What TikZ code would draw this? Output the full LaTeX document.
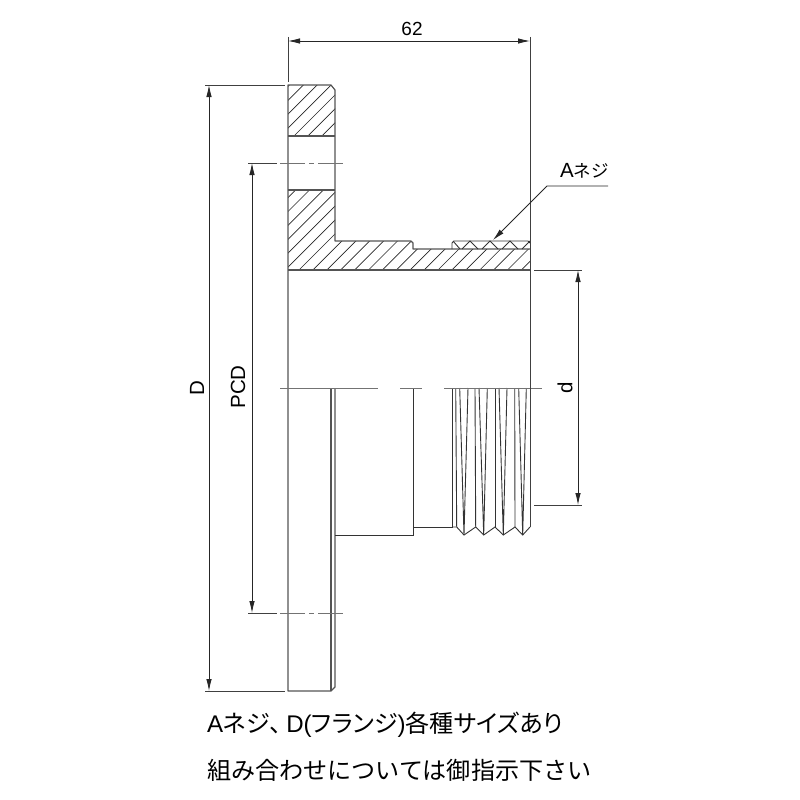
\documentclass[tikz,border=0pt]{standalone}
\usepackage{fontspec}
\setmainfont{Liberation Sans}
\newfontfamily\cjk{Noto Sans CJK JP}
\newfontfamily\cjkp[RawFeature=+palt]{Noto Sans CJK JP}
\usepackage{xcolor}
\usetikzlibrary{calc}
\usetikzlibrary{arrows.meta}
\usetikzlibrary{positioning}

\begin{document}
\begin{tikzpicture}[x=1pt,y=-1pt]
% 1 = 1 pixel of the drawing, y runs downwards
    \def\XLEFT{288}
    \def\XFLANGE{335}
    \def\XCHAMFER{331}
    \def\XSTEP{413}
    \def\XTHREAD{452}
    \def\XRIGHT{530}

    \def\YTOP{85}
    \def\YBOTTOM{691}
    \def\YHOLEA{136} %hole in the flange
    \def\YHOLEB{190}
    \def\YBODY{241}
    \def\YROOT{249}
    \def\YBORE{270}
    \def\YAXIS{388}
    \def\YPCDA{163}
    \def\YPCDB{613}

    \definecolor{outline}{gray}{0.33}
    \definecolor{centre}{gray}{0.45}

    \tikzset{
      part/.style={line width=1.2pt,color=outline,line join=round},
      hatchline/.style={line width=0.65pt,color=black!85},
      thin part/.style={line width=0.9pt,color=black!80},
      dimen/.style={{Latex[length=12pt,width=5.5pt]}-{Latex[length=12pt,width=5.5pt]},
        line width=0.8pt,color=black!85},
      extline/.style={line width=0.9pt,color=black!75},
      centreline/.style={line width=0.8pt,color=centre},
      label/.style={font=\fontsize{20.5}{20.5}\selectfont,inner sep=0pt},
      note/.style={font=\fontsize{24.1}{24}\selectfont\cjk,inner sep=0pt,anchor=west},
    }

    \useasboundingbox (0,0) rectangle (800,800);

    % HATCHING
    \begin{scope}
        \clip (\XLEFT,\YTOP) -- (\XCHAMFER,\YTOP) -- (\XFLANGE,\YTOP+5)
            -- (\XFLANGE,\YHOLEA) -- (\XLEFT,\YHOLEA) -- cycle
            (\XLEFT,\YHOLEB) -- (\XFLANGE,\YHOLEB) -- (\XFLANGE,\YBODY)
            -- (\XSTEP,\YBODY) -- (\XSTEP,\YROOT) -- (\XRIGHT,\YROOT)
            -- (\XRIGHT,\YBORE) -- (\XLEFT,\YBORE) -- cycle;
        \foreach \k in {0,...,24}
            \draw [hatchline] ({299+13.9*\k-200},{\YBORE+200}) -- ++(400,-400);
        \foreach \k in {1,...,14}
            \draw [hatchline] ({299-13.9*\k-200},{\YBORE+200}) -- ++(400,-400);
    \end{scope}

    % UPPER HALF
    \draw [part] (\XLEFT,\YAXIS) -- (\XLEFT,\YTOP) -- (\XCHAMFER,\YTOP)
        -- (\XFLANGE,\YTOP+5) -- (\XFLANGE,\YBODY) -- (\XSTEP-2,\YBODY)
        -- (\XSTEP,\YBODY+2) -- (\XSTEP,\YROOT) -- (\XRIGHT,\YROOT);
    \draw [part] (\XLEFT,\YHOLEA) -- (\XFLANGE,\YHOLEA);
    \draw [part] (\XLEFT,\YHOLEB) -- (\XFLANGE,\YHOLEB);
    \draw [part] (\XLEFT,\YBORE) -- (\XRIGHT,\YBORE);

    %thread in section
    \draw [thin part] (\XTHREAD,\YROOT) -- (\XTHREAD,\YBODY+2)
        -- (\XTHREAD+2,\YBODY) -- (\XRIGHT-2,\YBODY) -- (\XRIGHT,\YBODY+2);
    \draw [thin part] (\XTHREAD+1,\YBODY) -- (460,\YROOT)
        (462,\YROOT) -- (470,\YBODY) -- (478,\YROOT)
        (482,\YROOT) -- (490,\YBODY) -- (498,\YROOT)
        (502,\YROOT) -- (510,\YBODY) -- (518,\YROOT)
        (522,\YROOT) -- (\XRIGHT,\YBODY);

    % LOWER HALF
    \draw [part] (\XLEFT,\YAXIS) -- (\XLEFT,\YBOTTOM) -- (\XCHAMFER,\YBOTTOM)
        -- (\XFLANGE,\YBOTTOM-4) -- (\XFLANGE,\YAXIS);
    \draw [part] (\XCHAMFER,\YAXIS) -- (\XCHAMFER,\YBOTTOM);
    \draw [thin part] (\XFLANGE,535) -- (\XSTEP,535) -- (\XSTEP,\YAXIS);
    \draw [thin part] (\XSTEP,527) -- (\XTHREAD,527) -- (\XTHREAD,\YAXIS);

    %thread outside view
    \draw [thin part] (\XTHREAD,527) -- (456.7,527) -- (464,535)
        -- (475.7,527) -- (483.7,535) -- (495,527) -- (503.3,535)
        -- (515,527) -- (522.7,535) -- (\XRIGHT,527);
    \foreach \c/\ca/\r/\ra/\rb in {456.7/455.7/464/459.7/468,
            475.7/475/483.7/479/487.3,
            495/495/503.3/499/507,
            515/514.7/522.7/518.7/526.3}{
        \draw [thin part] (\ca,\YAXIS) -- (\c,527);
        \draw [thin part] (\ra,\YAXIS) -- (\r,535) -- (\rb,\YAXIS);
    }

    % CENTRE LINES
    \draw [centreline, dash pattern=on 98pt off 22pt on 22pt off 22pt on 98pt]
        (280,\YAXIS) -- (542,\YAXIS);
    \draw [centreline, dash pattern=on 25pt off 4pt on 5pt off 4pt on 25pt]
        (280,\YPCDA) -- (343,\YPCDA);
    \draw [centreline, dash pattern=on 25pt off 4pt on 5pt off 4pt on 25pt]
        (280,\YPCDB) -- (343,\YPCDB);

    % EXTENSION LINES
    \draw [extline] (\XLEFT,37) -- (\XLEFT,82);
    \draw [extline] (\XRIGHT,37) -- (\XRIGHT,527);
    \draw [extline] (205,\YTOP) -- (285,\YTOP);
    \draw [extline] (205,\YBOTTOM) -- (285,\YBOTTOM);
    \draw [extline] (248,\YPCDA) -- (277,\YPCDA);
    \draw [extline] (248,\YPCDB) -- (277,\YPCDB);
    \draw [extline] (534,\YBORE) -- (582,\YBORE);
    \draw [extline] (534,505) -- (582,505);

    % DIMENSIONS
    \draw [dimen] (\XLEFT,41) -- (\XRIGHT,41);
    \draw [dimen] (209,\YTOP) -- (209,\YBOTTOM);
    \draw [dimen] (252,\YPCDA) -- (252,\YPCDB);
    \draw [dimen] (578,\YBORE) -- (578,505);

    \node [label,font=\fontsize{19}{19}\selectfont] (sixtytwo) at (412,29) {62};
    \node [label,rotate=90] (flangedia) at (197,388) {D};
    \node [label,rotate=90] (pcd) at (238,387) {PCD};
    \node [label,rotate=90] (bore) at (565,388) {d};

    % THREAD LEADER
    \node [label,anchor=west] (threadlabel) at (560,171)
        {A{\fontsize{17.5}{17.5}\selectfont\cjk ネジ}};
    \coordinate (leaderend) at (608,186);
    \coordinate (leaderknee) at (547,186);
    \coordinate (leadertip) at (493,240);
    \draw [line width=0.8pt,color=black!85,-{Latex[length=12pt,width=5.5pt]}]
        (leaderend) -- (leaderknee) -- (leadertip);

    % NOTES
    \node [note] (noteone) at (207,725) {{\rmfamily A}{\cjkp ネジ、}\hspace{5pt}{\rmfamily D(}{\cjkp フランジ}{\rmfamily )}{\cjkp 各種サイズあり}};
    \node [note] (notetwo) at (207,770) {組み合わせについては御指示下さい};

\end{tikzpicture}
\end{document}
